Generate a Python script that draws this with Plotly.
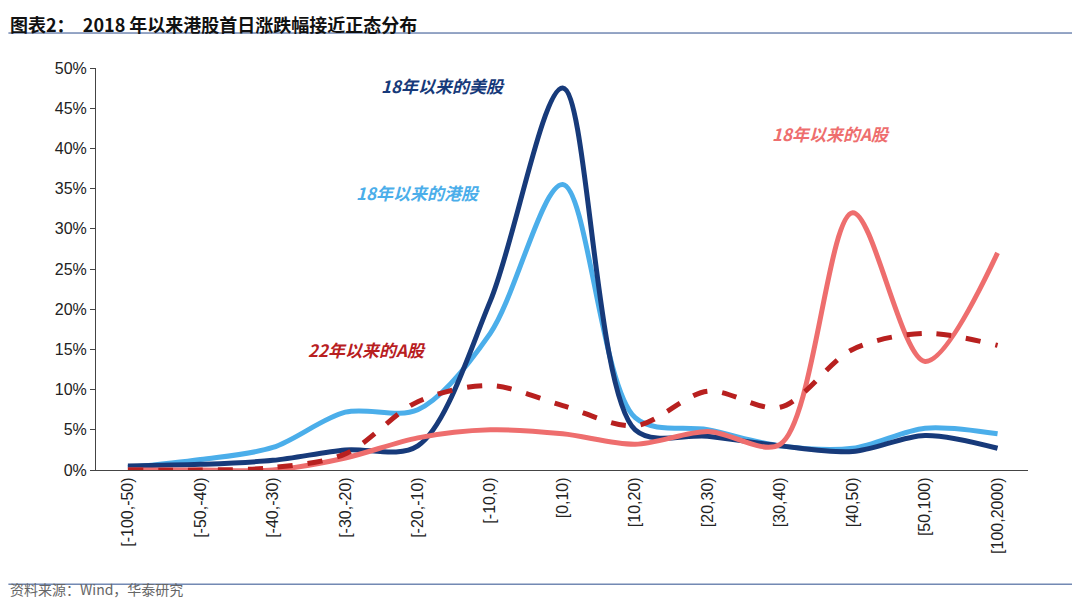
import plotly.graph_objects as go

cats = ["[-100,-50)","[-50,-40)","[-40,-30)","[-30,-20)","[-20,-10)","[-10,0)","[0,10)","[10,20)","[20,30)","[30,40)","[40,50)","[50,100)","[100,2000)"]
us18 = [0.5,0.7,1.2,2.5,3.0,21,47.5,5,4.2,3.0,2.3,4.3,2.7]
hk18 = [0.3,1.3,2.8,7.2,7.5,17,35.5,6.5,5,3.0,2.7,5.2,4.5]
a18 = [0,0,0,1.5,4,5,4.5,3.2,4.8,3.2,32,13.5,27]
a22 = [0,0,0.3,2,8.5,10.5,8,5.5,9.8,7.8,15,17,15.5]
x = list(range(len(cats)))

fig = go.Figure()
def add(y, color, dash="solid"):
    fig.add_trace(go.Scatter(x=x, y=[v/100 for v in y], mode="lines",
        line=dict(color=color, width=5, shape="spline", smoothing=0.9, dash=dash), showlegend=False))
add(hk18, "#4BAEEA")
add(us18, "#173A7A")
add(a18, "#EE6E6E")
add(a22, "#B8201F", "dash")

f = "Noto Sans CJK SC"
def ann(xv, yv, t, c):
    fig.add_annotation(x=xv, y=yv, text="<b><i>"+t+"</i></b>", showarrow=False,
                       font=dict(family=f, size=17, color=c))
ann(4.35, 0.478, "18年以来的美股", "#173A7A")
ann(4.0, 0.345, "18年以来的港股", "#4BAEEA")
ann(9.7, 0.419, "18年以来的A股", "#EE6E6E")
ann(3.3, 0.15, "22年以来的A股", "#B8201F")

fig.add_annotation(xref="paper", yref="paper", x=-0.094, y=1.148, xanchor="left", showarrow=False,
                   text="<b>图表2：  2018 年以来港股首日涨跌幅接近正态分布</b>", font=dict(family=f, size=18, color="#111"))
fig.add_annotation(xref="paper", yref="paper", x=-0.094, y=-0.325, xanchor="left", showarrow=False,
                   text="资料来源：Wind，华泰研究", font=dict(family=f, size=14, color="#666"))
fig.add_shape(type="line", xref="paper", yref="paper", x0=-0.094, x1=1.064, y0=1.087, y1=1.087,
              line=dict(color="#2B4C8C", width=1))
fig.add_shape(type="line", xref="paper", yref="paper", x0=-0.094, x1=1.064, y0=-0.284, y1=-0.284,
              line=dict(color="#2B4C8C", width=1))

fig.update_layout(width=1080, height=604, margin=dict(l=88, r=60, t=60, b=142, autoexpand=False),
    paper_bgcolor="white", plot_bgcolor="white", font=dict(family=f, size=15, color="#222"))
fig.update_xaxes(range=[-0.44, 12.42], tickvals=x, ticktext=cats, tickangle=-90, automargin=False,
    showline=True, linecolor="#444", linewidth=1, showgrid=False, ticks="outside", ticklen=0,
    tickfont=dict(family="Liberation Sans", size=16))
fig.update_yaxes(range=[0, 0.5], dtick=0.05, tickformat=".0%", showline=True, linecolor="#444", automargin=False,
    showgrid=False, ticks="outside", ticklen=5, zeroline=False, tickfont=dict(family="Liberation Sans", size=16))
fig.write_html("out.html")
